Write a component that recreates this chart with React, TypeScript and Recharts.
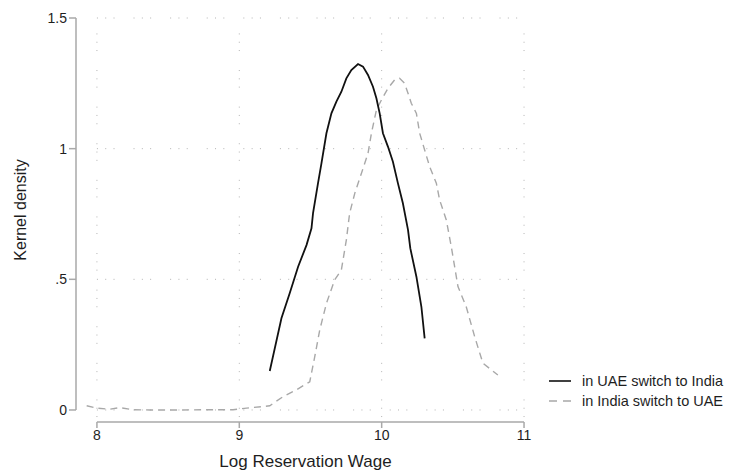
import React from 'react';
import { LineChart, Line, XAxis, YAxis, ReferenceLine, Legend } from 'recharts';

const uaeX = [9.214, 9.296, 9.354, 9.413, 9.472, 9.507, 9.518, 9.553, 9.577, 9.612, 9.647, 9.682, 9.717, 9.752, 9.787, 9.834, 9.869, 9.904, 9.939, 9.963, 9.986, 10.009, 10.044, 10.079, 10.114, 10.149, 10.185, 10.201, 10.244, 10.279, 10.302];
const uaeY = [0.149, 0.351, 0.447, 0.548, 0.631, 0.695, 0.753, 0.868, 0.944, 1.059, 1.135, 1.18, 1.218, 1.269, 1.301, 1.324, 1.314, 1.282, 1.237, 1.193, 1.135, 1.059, 1.008, 0.95, 0.868, 0.791, 0.689, 0.619, 0.51, 0.395, 0.274];

const indiaX = [7.928, 7.998, 8.091, 8.161, 8.255, 8.372, 8.6, 8.8, 8.956, 9.051, 9.214, 9.307, 9.401, 9.495, 9.53, 9.565, 9.612, 9.67, 9.717, 9.752, 9.775, 9.811, 9.858, 9.904, 9.928, 9.963, 9.998, 10.044, 10.091, 10.126, 10.161, 10.185, 10.208, 10.244, 10.267, 10.302, 10.337, 10.384, 10.407, 10.454, 10.489, 10.536, 10.594, 10.653, 10.711, 10.816];
const indiaY = [0.016, 0.007, 0.003, 0.009, 0.001, 0.0, 0.0, 0.001, 0.001, 0.007, 0.016, 0.051, 0.077, 0.108, 0.204, 0.306, 0.408, 0.498, 0.536, 0.651, 0.753, 0.829, 0.906, 0.982, 1.059, 1.148, 1.186, 1.231, 1.263, 1.269, 1.25, 1.212, 1.174, 1.135, 1.059, 0.995, 0.931, 0.868, 0.804, 0.727, 0.625, 0.472, 0.395, 0.281, 0.179, 0.134];

const xTicks = [8, 9, 10, 11];
const yTicks = [0, 0.5, 1, 1.5];
const yTickLabels = ['0', '.5', '1', '1.5'];
const seriesNames = ['in UAE switch to India', 'in India switch to UAE'];

const uaeData = uaeX.map((x, i) => ({ x, y: uaeY[i] }));
const indiaData = indiaX.map((x, i) => ({ x, y: indiaY[i] }));

const FONT = 'Liberation Sans, Arial, sans-serif';
const AXIS = '#a9a9a9';
const GRID = '#b3b3b3';
const TEXT = '#1e1e1e';
const X_MIN = 7.853;
const X_MAX = 11.077;
const Y_MIN = -0.046;
const Y_MAX = 1.5;

const LegendContent = () => (
  <div style={{ fontFamily: FONT, fontSize: 14.5, color: TEXT, lineHeight: '20px' }}>
    <div style={{ display: 'flex', alignItems: 'center', height: 20 }}>
      <svg width={35} height={20}>
        <line x1={2} y1={10} x2={24} y2={10} stroke="#111" strokeWidth={1.6} />
      </svg>
      <span>{seriesNames[0]}</span>
    </div>
    <div style={{ display: 'flex', alignItems: 'center', height: 20 }}>
      <svg width={35} height={20}>
        <line x1={2} y1={10} x2={24} y2={10} stroke="#a8a8a8" strokeWidth={1.3} strokeDasharray="8 6" />
      </svg>
      <span>{seriesNames[1]}</span>
    </div>
  </div>
);

export default function App() {
  return (
    <div style={{ position: 'absolute', left: 0, top: 0, width: 730, height: 474, background: '#fff' }}>
      <LineChart width={730} height={474} margin={{ top: 18, right: 195, bottom: 22, left: 16 }}>
        <XAxis
          type="number"
          dataKey="x"
          domain={[X_MIN, X_MAX]}
          ticks={xTicks}
          allowDataOverflow
          axisLine={false}
          tickLine={{ stroke: AXIS, strokeWidth: 1.5 }}
          tickSize={6}
          tick={{ fill: TEXT, fontSize: 14, fontFamily: FONT }}
          height={30}
          label={{
            content: () => (
              <text x={305.5} y={467} textAnchor="middle" fill={TEXT} fontSize={17} fontFamily={FONT}>
                Log Reservation Wage
              </text>
            ),
          }}
        />
        <YAxis
          type="number"
          dataKey="y"
          domain={[Y_MIN, Y_MAX]}
          ticks={yTicks}
          allowDataOverflow
          axisLine={false}
          tickLine={{ stroke: AXIS, strokeWidth: 1.5 }}
          tickSize={7}
          tickFormatter={(v: number) => yTickLabels[yTicks.indexOf(v)] ?? String(v)}
          tick={{ fill: TEXT, fontSize: 14, fontFamily: FONT }}
          width={60}
          label={{
            content: () => (
              <text x={26} y={210} textAnchor="middle" fill={TEXT} fontSize={16} fontFamily={FONT} transform="rotate(-90 26 210)">
                Kernel density
              </text>
            ),
          }}
        />
        {yTicks.map((t) => (
          <ReferenceLine
            key={'h' + t}
            segment={[{ x: 8, y: t }, { x: 11.04, y: t }]}
            stroke={GRID}
            strokeWidth={1}
            strokeDasharray="1 7.3 1 7.3 1 19"
            ifOverflow="visible"
          />
        ))}
        {xTicks.map((t) => (
          <ReferenceLine
            key={'v' + t}
            segment={[{ x: t, y: -0.027 }, { x: t, y: 1.5 }]}
            stroke={GRID}
            strokeWidth={1}
            strokeDasharray="1 7.3 1 7.3 1 19"
            ifOverflow="visible"
          />
        ))}
        <ReferenceLine segment={[{ x: X_MIN, y: 0 }, { x: X_MIN, y: 1.5 }]} stroke={AXIS} strokeWidth={1.5} ifOverflow="visible" />
        <ReferenceLine segment={[{ x: 8, y: Y_MIN }, { x: 11, y: Y_MIN }]} stroke={AXIS} strokeWidth={1.5} ifOverflow="visible" />
        <Line
          data={indiaData}
          dataKey="y"
          name={seriesNames[1]}
          type="linear"
          stroke="#a8a8a8"
          strokeWidth={1.4}
          strokeDasharray="7 5"
          dot={false}
          isAnimationActive={false}
        />
        <Line
          data={uaeData}
          dataKey="y"
          name={seriesNames[0]}
          type="linear"
          stroke="#111"
          strokeWidth={1.8}
          dot={false}
          isAnimationActive={false}
        />
        <Legend
          layout="horizontal"
          verticalAlign="middle"
          align="center"
          content={<LegendContent />}
          wrapperStyle={{ position: 'absolute', left: 547, top: 371, width: 183 }}
        />
      </LineChart>
    </div>
  );
}
